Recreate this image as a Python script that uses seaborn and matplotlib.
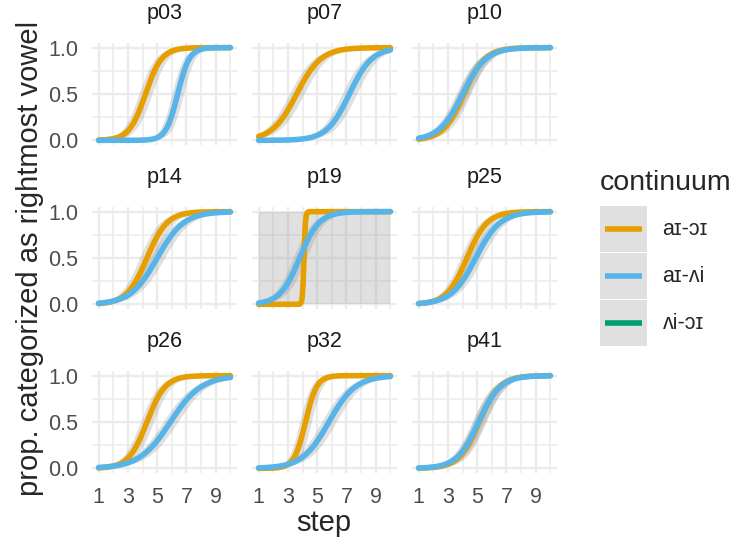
import numpy as np
import pandas as pd
import matplotlib
matplotlib.use('Agg')
import matplotlib.pyplot as plt
import seaborn as sns
from matplotlib.lines import Line2D
from matplotlib.patches import Rectangle
from matplotlib.legend_handler import HandlerBase

# Fitted logistic curves per participant
participants = ['p03', 'p07', 'p10', 'p14', 'p19', 'p25', 'p26', 'p32', 'p41']
continua = ['aɪ-ɔɪ', 'aɪ-ʌi', 'ʌi-ɔɪ']
colors = ['#E69F00', '#56B4E9', '#009E73']

# aɪ-ɔɪ (orange)
orange_mid = [4.2, 3.6, 4.1, 4.3, 4.1, 4.3, 4.3, 4.2, 5.15]
orange_slope = [1.8, 1.2, 1.4, 1.45, 20.0, 1.45, 1.6, 2.6, 1.45]
orange_ci = [0.45, 0.5, 0.45, 0.5, 99.0, 0.45, 0.45, 0.4, 0.45]
# aɪ-ʌi (blue)
blue_mid = [6.4, 7.2, 4.0, 5.0, 3.8, 4.9, 5.9, 5.8, 5.1]
blue_slope = [2.5, 1.3, 1.25, 1.1, 1.5, 1.2, 0.95, 1.1, 1.35]
blue_ci = [0.4, 0.5, 0.45, 0.5, 0.45, 0.45, 0.5, 0.5, 0.45]

steps = np.linspace(1, 10, 200)


def logistic(x, m, k):
    return 1 / (1 + np.exp(-k * (x - m)))


rows = []
for i, p in enumerate(participants):
    for cont, mids, ks, cis in [(continua[0], orange_mid, orange_slope, orange_ci),
                                (continua[1], blue_mid, blue_slope, blue_ci)]:
        m, k, c = mids[i], ks[i], cis[i]
        rows.append(pd.DataFrame({
            'participant': p, 'continuum': cont, 'step': steps,
            'prop': logistic(steps, m, k),
            'lo': logistic(steps, m + c, k),
            'hi': logistic(steps, m - c, k),
        }))
df = pd.concat(rows, ignore_index=True)

sns.set_theme(style='whitegrid')
plt.rcParams['font.family'] = ['Liberation Sans', 'DejaVu Sans']

W, H = 737, 544
fig = plt.figure(figsize=(W / 100, H / 100), dpi=100)

col_left = [92, 252, 412]
row_top = [43, 207, 371]
pw, ph = 145, 102

palette = dict(zip(continua, colors))

for i, p in enumerate(participants):
    r, c = divmod(i, 3)
    ax = fig.add_axes([col_left[c] / W, 1 - (row_top[r] + ph) / H, pw / W, ph / H])
    sub = df[df['participant'] == p]
    for cont in continua[:2]:
        s = sub[sub['continuum'] == cont]
        ax.fill_between(s['step'], s['lo'], s['hi'], color='#999999', alpha=0.3, lw=0)
    sns.lineplot(data=sub, x='step', y='prop', hue='continuum', hue_order=continua[:2],
                 palette=palette, lw=4, ax=ax, legend=False, errorbar=None)
    ax.set_xlim(1 - 0.45, 10 + 0.45)
    ax.set_ylim(-0.05, 1.05)
    ax.set_xticks([1, 3, 5, 7, 9])
    ax.set_xticks([2, 4, 6, 8, 10], minor=True)
    ax.set_yticks([0, 0.5, 1.0])
    ax.set_yticks([0.25, 0.75], minor=True)
    ax.set_yticklabels(['0.0', '0.5', '1.0'])
    ax.grid(which='major', color='#EBEBEB', lw=1.7)
    ax.grid(which='minor', color='#EBEBEB', lw=1.1)
    ax.set_facecolor('white')
    for sp in ax.spines.values():
        sp.set_visible(False)
    ax.tick_params(length=0, labelsize=15.5, labelcolor='#4D4D4D')
    ax.tick_params(axis='x', pad=10)
    ax.tick_params(axis='y', pad=10)
    if c != 0:
        ax.tick_params(labelleft=False)
    if r != 2:
        ax.tick_params(labelbottom=False)
    ax.set_xlabel('')
    ax.set_ylabel('')
    ax.set_title(p, fontsize=15.5, color='#1A1A1A', pad=17)

fig.text(324 / W, 1 - 523 / H, 'step', ha='center', va='center', fontsize=21)
fig.text(30 / W, 1 - 258 / H, 'prop. categorized as rightmost vowel', ha='center',
         va='center', rotation=90, fontsize=21)


class KeyLine(HandlerBase):
    # ggplot-like key: grey square with a centred coloured line
    def create_artists(self, legend, orig_handle, xdescent, ydescent, width, height,
                       fontsize, trans):
        rect = Rectangle((-xdescent, -ydescent), width, height, facecolor='#E0E0E0',
                         edgecolor='none', transform=trans)
        yc = -ydescent + height / 2
        inset = 0.11 * width
        line = Line2D([-xdescent + inset, -xdescent + width - inset], [yc, yc],
                      color=orig_handle.get_color(), lw=orig_handle.get_linewidth(),
                      solid_capstyle='butt', transform=trans)
        return [rect, line]


handles = [Line2D([], [], color=col, lw=4) for col in colors]
leg = fig.legend(handles, continua, title='continuum', loc='upper left',
                 bbox_to_anchor=(600 / W, 1 - 170 / H), frameon=False, borderaxespad=0,
                 fontsize=15.5, title_fontsize=20.5, handlelength=2.2, handleheight=2.91,
                 labelspacing=0.05, handletextpad=0.7, borderpad=0, alignment='left',
                 handler_map={Line2D: KeyLine()})
# extra gap between legend title and keys
leg._legend_box.sep = 7

fig.savefig('out.png', dpi=100)
